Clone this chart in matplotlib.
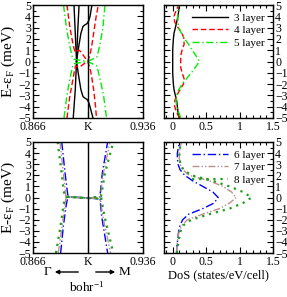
import matplotlib
matplotlib.use("Agg")
import matplotlib.pyplot as plt
from matplotlib.ticker import MultipleLocator, FixedLocator

plt.rcParams['font.family'] = ['Liberation Serif', 'DejaVu Serif']
plt.rcParams['mathtext.fontset'] = 'stix'

K = 0.901

# ---- band structures (k in bohr^-1, E in meV) ----
# 3 layer
b3_k = [[0.8921, 0.8929, 0.8937, 0.8929, 0.8916],
        [0.8953, 0.8944, 0.8937],
        [0.9035, 0.9029, 0.9023, 0.9014, 0.9004, 0.8991, 0.8978, 0.8965, 0.8953, 0.8942, 0.8937],
        [0.8937, 0.8942, 0.8953, 0.8965, 0.8978, 0.8991, 0.9004, 0.9014, 0.9023, 0.9032, 0.9042]]
b3_E = [[5, 2.5, 0, -2.5, -5],
        [5, 2.5, 0],
        [5, 4.5, 4, 3.6, 3.35, 3.25, 3.1, 2.5, 1.5, 0.5, 0],
        [0, -0.5, -1.5, -2.5, -3.1, -3.25, -3.35, -3.6, -4, -4.5, -5]]
# 4 layer
b4_k = [[0.8876, 0.8895, 0.8915, 0.8924, 0.8930, 0.8940, 0.8953, 0.8965, 0.8985, 0.9008, 0.9023, 0.9035, 0.9048, 0.9058, 0.9064],
        [0.8876, 0.8895, 0.8915, 0.8924, 0.8930, 0.8940, 0.8953, 0.8965, 0.8985, 0.9008, 0.9023, 0.9035, 0.9048, 0.9062, 0.9076]]
b4_E = [[5, 3, 1.5, 1.0, 0.8, 0.95, 1.0, 0.85, 0.45, 0.0, -0.6, -1.5, -2.7, -4, -5],
        [-5, -3, -1.5, -0.8, -0.4, -0.45, -0.5, -0.4, -0.2, 0.0, 0.6, 1.5, 2.7, 4, 5]]
# 5 layer
b5_k = [[0.8854, 0.8873, 0.8892, 0.8908, 0.8915, 0.9008, 0.9067, 0.9086, 0.9109, 0.9128],
        [0.8857, 0.8876, 0.8895, 0.8911, 0.8918, 0.9008, 0.9067, 0.9086, 0.9105, 0.9118]]
b5_E = [[5, 3, 1.5, 0.5, 0.2, 0.0, -0.4, -1.5, -3, -5],
        [-5, -3, -1.5, -0.5, -0.2, 0.0, 0.4, 1.5, 3, 5]]
# 6 layer
b6_k = [[0.8843, 0.8864, 0.8881, 0.8895, 0.9010, 0.9075, 0.9086, 0.9097, 0.9135],
        [0.8836, 0.8853, 0.8870, 0.8881, 0.8895, 0.9010, 0.9086, 0.9101, 0.9135]]
b6_E = [[5, 2.2, 0.25, 0.05, -0.05, -0.12, -0.05, -1.7, -5],
        [-5, -2.6, -0.8, 0.0, 0.05, -0.05, 0.05, 2.2, 5]]
# 7 layer
b7_k = [[0.8832, 0.8853, 0.8868, 0.8890, 0.9010, 0.9080, 0.9088, 0.9104, 0.9154],
        [0.8821, 0.8845, 0.8862, 0.8870, 0.8890, 0.9010, 0.9088, 0.9108, 0.9150]]
b7_E = [[5, 2.2, 0.2, 0.05, -0.05, -0.1, 0.0, -1.7, -5],
        [-5, -2.6, -0.8, 0.0, 0.05, -0.05, 0.05, 2.2, 5]]
# 8 layer
b8_k = [[0.8817, 0.8842, 0.8859, 0.8885, 0.9010, 0.9085, 0.9093, 0.9115, 0.9171],
        [0.8806, 0.8835, 0.8853, 0.8862, 0.8885, 0.9010, 0.9093, 0.9118, 0.9171]]
b8_E = [[5, 2.2, 0.2, 0.05, -0.05, -0.1, 0.05, -1.7, -5],
        [-5, -2.6, -0.8, 0.0, 0.05, -0.05, 0.1, 2.2, 5]]

# ---- density of states ----
dos_E = [-5, -4.5, -4, -3.5, -3, -2.5, -2, -1.5, -1, -0.5, 0,
         0.5, 1, 1.5, 2, 2.5, 3, 3.5, 4, 4.5, 5]
dos3 = [0.10, 0.08, 0.07, 0.06, 0.04, 0.02, 0.01, 0.005, 0.0, 0.0, 0.0,
        0.0, 0.0, 0.005, 0.01, 0.02, 0.04, 0.06, 0.08, 0.09, 0.10]
dos4 = [0.10, 0.06, 0.03, 0.03, 0.06, 0.11, 0.16, 0.17, 0.14, 0.12, 0.12,
        0.12, 0.14, 0.17, 0.17, 0.14, 0.08, 0.03, 0.02, 0.05, 0.09]
dos5 = [0.12, 0.09, 0.06, 0.05, 0.06, 0.09, 0.14, 0.21, 0.28, 0.34, 0.40,
        0.35, 0.29, 0.24, 0.18, 0.13, 0.09, 0.08, 0.075, 0.08, 0.09]
dos6 = [0.06, 0.06, 0.07, 0.08, 0.09, 0.11, 0.15, 0.24, 0.45, 0.62, 0.68,
        0.60, 0.45, 0.30, 0.18, 0.11, 0.08, 0.07, 0.07, 0.085, 0.10]
dos7 = [0.06, 0.06, 0.07, 0.08, 0.10, 0.14, 0.22, 0.45, 0.70, 0.85, 0.95,
        0.88, 0.75, 0.55, 0.25, 0.15, 0.11, 0.10, 0.10, 0.11, 0.13]
dos8 = [0.06, 0.07, 0.09, 0.10, 0.12, 0.16, 0.28, 0.55, 0.85, 1.05, 1.18,
        1.05, 0.85, 0.60, 0.28, 0.16, 0.12, 0.10, 0.10, 0.11, 0.12]

kticks = [0.866, K, 0.936]
klabels = ['0.866', 'K', '0.936']

sty3 = dict(color='black', ls='-', lw=1.0)
sty4 = dict(color='red', ls=(0, (4, 2)), lw=1.0)
sty5 = dict(color='#00ee00', ls=(0, (5, 2, 1, 2)), lw=1.0)
sty6 = dict(color='blue', ls=(0, (6, 2, 1, 2)), lw=1.0)
sty7 = dict(color='#bc8f8f', ls=(0, (5, 1.5, 1, 1.5, 1, 1.5)), lw=1.0)
sty8 = dict(color='#1e9e1e', ls=(0, (1, 2.2)), lw=1.6)

fig = plt.figure(figsize=(2.87, 2.97), dpi=100)
ax1 = fig.add_axes([33/287, 1-118/297, 110/287, 113/297])
ax2 = fig.add_axes([164/287, 1-118/297, 109/287, 113/297])
ax3 = fig.add_axes([33/287, 1-253/297, 110/287, 111/297])
ax4 = fig.add_axes([164/287, 1-253/297, 109/287, 111/297])

for kk, ee in zip(b3_k, b3_E):
    ax1.plot(kk, ee, **sty3)
for kk, ee in zip(b4_k, b4_E):
    ax1.plot(kk, ee, **sty4)
for kk, ee in zip(b5_k, b5_E):
    ax1.plot(kk, ee, **sty5)
for kk, ee in zip(b6_k, b6_E):
    ax3.plot(kk, ee, **sty6)
for kk, ee in zip(b7_k, b7_E):
    ax3.plot(kk, ee, **sty7)
for kk, ee in zip(b8_k, b8_E):
    ax3.plot(kk, ee, **sty8)

ax2.plot(dos3, dos_E, label='3 layer', **sty3)
ax2.plot(dos4, dos_E, label='4 layer', **sty4)
ax2.plot(dos5, dos_E, label='5 layer', **sty5)
ax4.plot(dos6, dos_E, label='6 layer', **sty6)
ax4.plot(dos7, dos_E, label='7 layer', **sty7)
ax4.plot(dos8, dos_E, label='8 layer', **sty8)

for ax in (ax1, ax3):
    ax.axvline(K, color='black', lw=1.0)
    ax.set_xlim(0.866, 0.936)
    ax.xaxis.set_major_locator(FixedLocator(kticks))
    ax.set_xticklabels(klabels)
    ax.set_ylabel('E-ε$_\\mathregular{F}$ (meV)', fontsize=11, labelpad=1)

for ax in (ax2, ax4):
    ax.set_xlim(-0.13, 1.5)
    ax.xaxis.set_major_locator(MultipleLocator(0.5))
    ax.xaxis.set_minor_locator(MultipleLocator(0.1))
    ax.set_xticks([0, 0.5, 1, 1.5])
    ax.set_xticklabels(['0', '0.5', '1', '1.5'])
    ax.tick_params(labelleft=False, labelright=True)
    ax.legend(loc='upper right', frameon=False, fontsize=8, handlelength=3.2,
              labelspacing=0.25, borderaxespad=0.3, handletextpad=0.6)

for ax in (ax1, ax2, ax3, ax4):
    ax.set_ylim(-5, 5)
    ax.yaxis.set_major_locator(MultipleLocator(1))
    ax.yaxis.set_minor_locator(MultipleLocator(0.5))
    ax.tick_params(which='both', direction='in', top=True, right=True,
                   labelsize=8.5, pad=1.5, width=0.8)
    ax.tick_params(axis='x', pad=2)
    ax.tick_params(which='major', length=4)
    ax.tick_params(which='minor', length=2)
    for sp in ax.spines.values():
        sp.set_linewidth(1.0)

ax4.set_xlabel('DoS (states/eV/cell)', fontsize=9, labelpad=1)

yarr = 1 - 272/297
fig.text(47/287, yarr, 'Γ', fontsize=9.5, ha='center', va='center')
fig.text(124/287, yarr, 'M', fontsize=9.5, ha='center', va='center')
fig.text(87/287, 1-288/297, 'bohr$^\\mathregular{-1}$', fontsize=9.5, ha='center', va='center')
fig.add_artist(matplotlib.patches.FancyArrowPatch(
    (81/287, yarr), (52/287, yarr), transform=fig.transFigure,
    arrowstyle='-|>', mutation_scale=6, lw=1.0, color='black'))
fig.add_artist(matplotlib.patches.FancyArrowPatch(
    (93/287, yarr), (118/287, yarr), transform=fig.transFigure,
    arrowstyle='-|>', mutation_scale=6, lw=1.0, color='black'))

fig.savefig('out.png', dpi=100)
